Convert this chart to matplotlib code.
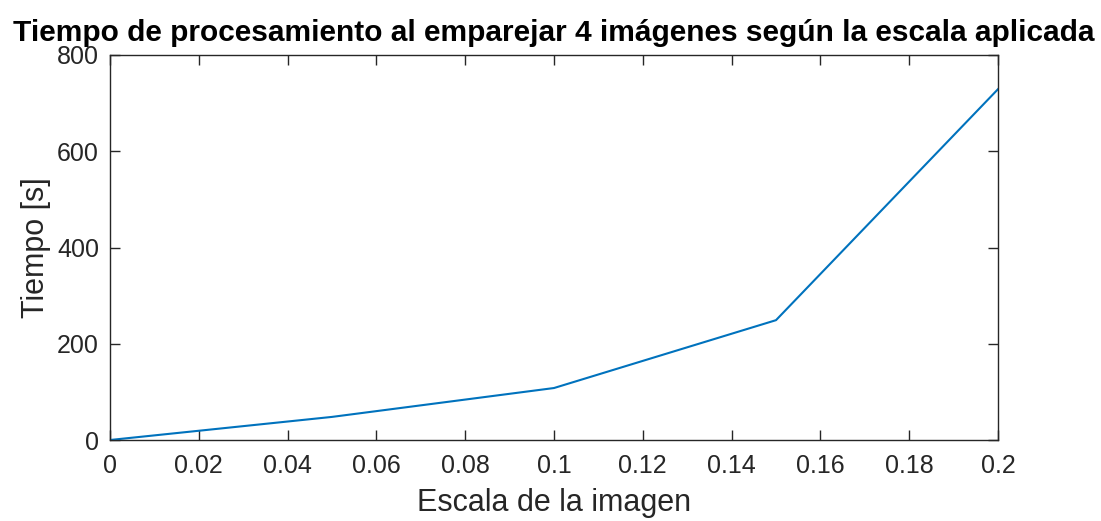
import matplotlib
matplotlib.use("Agg")
import matplotlib.pyplot as plt

# Processing time versus image scale
escala = [0.0, 0.05, 0.10, 0.15, 0.20]
tiempo = [0.0, 48.0, 108.0, 249.0, 729.0]

xticks = [0, 0.02, 0.04, 0.06, 0.08, 0.1, 0.12, 0.14, 0.16, 0.18, 0.2]
xticklabels = ["0", "0.02", "0.04", "0.06", "0.08", "0.1", "0.12", "0.14", "0.16", "0.18", "0.2"]
yticks = [0, 200, 400, 600, 800]

plt.rcParams["font.family"] = ["Liberation Sans", "DejaVu Sans"]

fig = plt.figure(figsize=(11.01, 5.21), dpi=100)
ax = fig.add_axes([110 / 1101, 81 / 521, 888 / 1101, 385 / 521])

ax.plot(escala, tiempo, color="#0072BD", lw=1.5)

ax.set_xlim(0, 0.2)
ax.set_ylim(0, 800)
ax.set_xticks(xticks)
ax.set_xticklabels(xticklabels)
ax.set_yticks(yticks)

for s in ax.spines.values():
    s.set_color("#262626")
    s.set_linewidth(1.0)
ax.tick_params(direction="in", top=True, right=True, length=7, width=1.0,
               colors="#262626", labelcolor="#262626", labelsize=18)
ax.tick_params(axis="x", pad=10)
ax.tick_params(axis="y", pad=8)

ax.set_xlabel("Escala de la imagen", fontsize=22, color="#262626", labelpad=7)
ax.set_ylabel("Tiempo [s]", fontsize=22, color="#262626", labelpad=4)
ax.set_title("Tiempo de procesamiento al emparejar 4 imágenes según la escala aplicada",
             fontsize=21.5, fontweight="bold", color="black", pad=10)

fig.savefig("out.png", dpi=100)
